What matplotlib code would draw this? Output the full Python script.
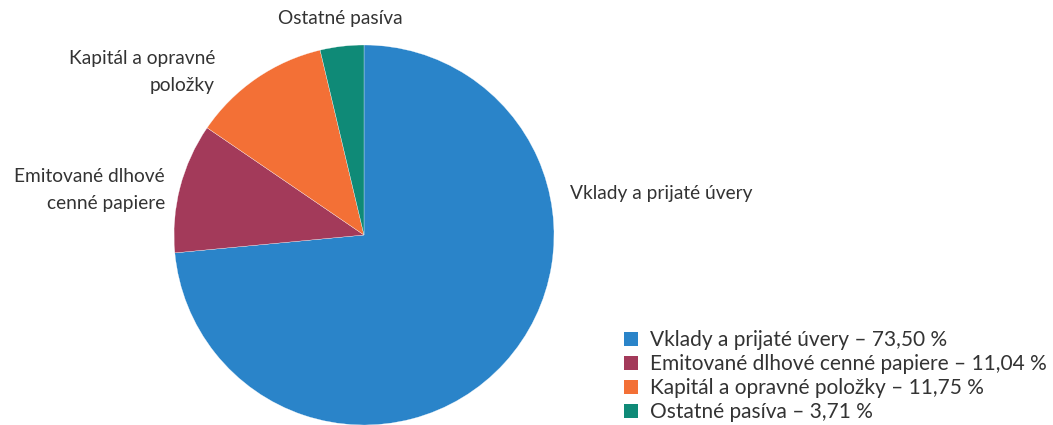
import matplotlib.pyplot as plt
from matplotlib.patches import Patch

plt.rcParams['font.family'] = ['Lato', 'DejaVu Sans']

labels = ['Vklady a prijaté úvery', 'Emitované dlhové\ncenné papiere',
          'Kapitál a opravné\npoložky', 'Ostatné pasíva']
legend_labels = ['Vklady a prijaté úvery – 73,50 %', 'Emitované dlhové cenné papiere – 11,04 %',
                 'Kapitál a opravné položky – 11,75 %', 'Ostatné pasíva – 3,71 %']
values = [73.50, 11.04, 11.75, 3.71]
colors = ['#2A84C9', '#A33A5A', '#F37036', '#0F8A77']

W, H = 1053, 425
fig = plt.figure(figsize=(W / 100, H / 100), dpi=100)
cx, cy, r = 364, 235, 190  # pie centre and radius in pixels
ax = fig.add_axes([(cx - r) / W, (H - cy - r) / H, 2 * r / W, 2 * r / H])
ax.pie(values, colors=colors, startangle=90, counterclock=False, radius=1,
       wedgeprops={'linewidth': 0.2, 'edgecolor': 'white'})
ax.set_xlim(-1, 1)
ax.set_ylim(-1, 1)
ax.set_aspect('equal')
ax.axis('off')

txt = dict(fontsize=13.8, color='#333333', clip_on=False, linespacing=1.68)
# label positions (axes data units, radius = 1)
ax.text(1.084, 0.221, labels[0], ha='left', va='center', **txt)
ax.text(-1.047, 0.237, labels[1], ha='right', va='center', multialignment='right', **txt)
ax.text(-0.784, 0.858, labels[2], ha='right', va='center', multialignment='right', **txt)
ax.text(-0.126, 1.142, labels[3], ha='center', va='center', **txt)

handles = [Patch(facecolor=c, edgecolor='none') for c in colors]
fig.legend(handles, legend_labels, loc='upper left', bbox_to_anchor=(624 / W, (H - 330) / H),
           frameon=False, fontsize=15, handlelength=0.65, handleheight=0.65,
           handletextpad=0.62, labelspacing=0.2, borderpad=0, borderaxespad=0,
           labelcolor='#333333')

fig.savefig('out.png', dpi=100)
